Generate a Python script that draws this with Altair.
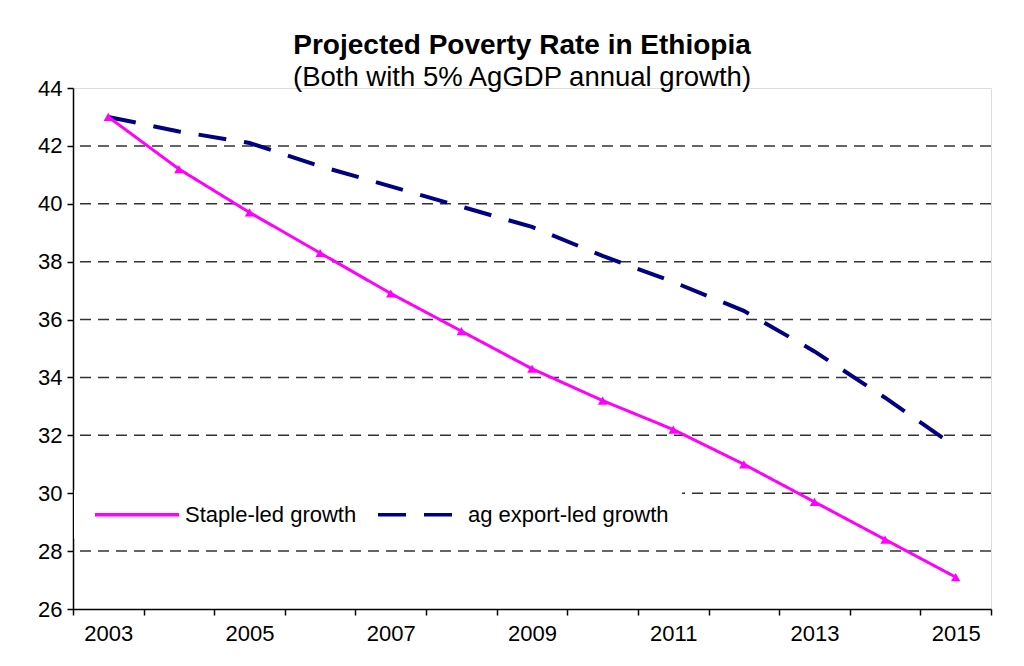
import altair as alt
import pandas as pd

years = [2003, 2004, 2005, 2006, 2007, 2008, 2009, 2010, 2011, 2012, 2013, 2014, 2015]
staple_led = [43.0, 41.2, 39.7, 38.3, 36.9, 35.6, 34.3, 33.2, 32.2, 31.0, 29.7, 28.4, 27.1]
export_led = [43.0, 42.5, 42.1, 41.3, 40.6, 39.9, 39.2, 38.2, 37.3, 36.3, 34.9, 33.3, 31.6]
series_names = ["Staple-led growth", "ag export-led growth"]
series_colors = ["#FF00FF", "#000080"]
y_ticks = [26, 28, 30, 32, 34, 36, 38, 40, 42, 44]
grid_values = [28, 30, 32, 34, 36, 38, 40, 42]
x_boundaries = [2002.5, 2003.5, 2004.5, 2005.5, 2006.5, 2007.5, 2008.5,
                2009.5, 2010.5, 2011.5, 2012.5, 2013.5, 2014.5, 2015.5]

rows = []
for y, a, b in zip(years, staple_led, export_led):
    rows.append({"year": y, "rate": a, "series": series_names[0]})
    rows.append({"year": y, "rate": b, "series": series_names[1]})
df = pd.DataFrame(rows)
grid_df = pd.DataFrame({"rate": grid_values})

W, H = 918, 521
FONT = "Liberation Sans"

xscale = alt.Scale(domain=[2002.5, 2015.5], nice=False, zero=False)
yscale = alt.Scale(domain=[26, 44], nice=False, zero=False)

x_axis = alt.Axis(
    values=x_boundaries, title=None, grid=False,
    labelExpr="(datum.value + 0.5) % 2 == 1 ? toString(datum.value + 0.5) : ''",
    labelOffset=W / 13 / 2, labelFlush=False, labelOverlap=False, labelBound=False,
    tickSize=6, tickColor="black", domainColor="black", domainWidth=1.5, tickWidth=1.5,
    labelPadding=8, labelFontSize=22, labelFont=FONT, labelColor="black")
y_axis = alt.Axis(
    values=y_ticks, title=None, grid=False,
    tickSize=6, tickColor="black", domainColor="black", domainWidth=1.5, tickWidth=1.5,
    labelPadding=5, labelFontSize=22, labelFont=FONT, labelColor="black")

# wide flat legend symbol: path scaled by sqrt(size)/2 = 10.5 -> 84 px long
legend = alt.Legend(
    orient="none", legendX=1, legendY=402, direction="horizontal", title=None,
    fillColor="white", padding=12, symbolType="M-4,0H4", symbolSize=441,
    symbolStrokeWidth=3.5, symbolOffset=38.5, labelOffset=35.5,
    labelFontSize=22, labelFont=FONT, labelColor="black",
    columnPadding=12, strokeColor="white", labelLimit=400,
)

X = alt.X("year:Q", scale=xscale, axis=x_axis)
Y = alt.Y("rate:Q", scale=yscale, axis=y_axis)
COLOR = alt.Color("series:N", scale=alt.Scale(domain=series_names, range=series_colors),
                  sort=series_names, title=None, legend=legend)
DASH = alt.StrokeDash("series:N", scale=alt.Scale(domain=series_names, range=[[1, 0], [28, 18]]),
                      sort=series_names, title=None, legend=legend)

grid = alt.Chart(grid_df).mark_rule(
    color="#333333", strokeWidth=1.5, strokeDash=[11, 7]
).encode(y=Y)

staple_line = alt.Chart(df).transform_filter(
    alt.datum.series == series_names[0]
).mark_line(strokeWidth=3).encode(x=X, y=Y, color=COLOR, strokeDash=DASH)

export_line = alt.Chart(df).transform_filter(
    alt.datum.series == series_names[1]
).mark_line(strokeWidth=4, strokeCap="butt").encode(x=X, y=Y, color=COLOR, strokeDash=DASH)

points = alt.Chart(df).transform_filter(
    alt.datum.series == series_names[0]
).mark_point(shape="triangle-up", filled=True, size=90, opacity=1, color="#FF00FF").encode(
    x=X, y=Y,
)

chart = alt.layer(grid, export_line, staple_line, points).properties(
    width=W, height=H,
    title=alt.Title(
        "Projected Poverty Rate in Ethiopia",
        subtitle="(Both with 5% AgGDP annual growth)",
        anchor="middle", frame="group", dx=-10, offset=-14,
        font=FONT, fontSize=28, fontWeight="bold", color="black",
        subtitleFont=FONT, subtitleFontSize=27.5, subtitleColor="black", subtitlePadding=4,
    ),
    autosize=alt.AutoSizeParams(type="none"),
    padding={"left": 65, "top": 80, "right": 20, "bottom": 50},
).configure_view(strokeWidth=0).configure(background="white")

chart.save("out.html", embed_options={"renderer": "svg", "actions": False})
